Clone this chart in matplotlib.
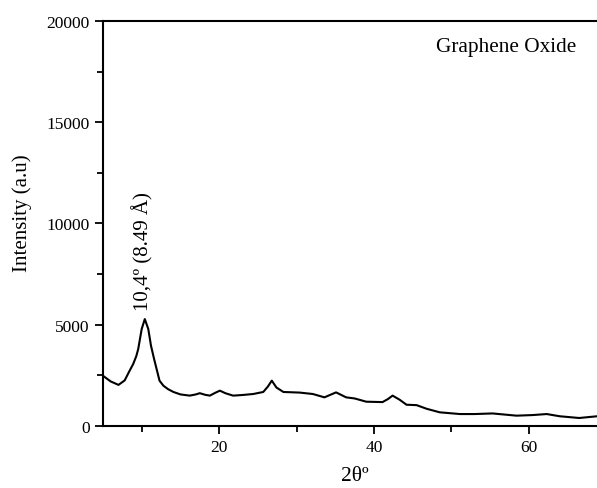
import matplotlib
matplotlib.use("Agg")
import matplotlib.pyplot as plt
from matplotlib.ticker import MultipleLocator

plt.rcParams['font.family'] = ['Liberation Serif', 'DejaVu Serif']

two_theta = [5.0, 6.0, 7.0, 7.8, 8.4, 8.9, 9.3, 9.55, 10.0, 10.4, 10.85, 11.2, 11.6,
             12.0, 12.3, 12.8, 13.4, 14.1, 15.0, 16.2, 17.0, 17.5, 18.2, 18.8, 19.5,
             20.1, 20.8, 21.8, 23.0, 24.4, 25.7, 26.3, 26.8, 27.4, 28.3, 30.4, 32.1,
             33.6, 35.1, 36.4, 37.5, 39.0, 41.1, 41.8, 42.4, 43.3, 44.2, 45.5, 46.8,
             48.5, 51.1, 53.0, 55.3, 57.0, 58.4, 60.5, 62.3, 64.0, 66.5, 68.8]
intensity = [2480, 2200, 2030, 2250, 2700, 3060, 3450, 3800, 4790, 5280, 4790, 3965,
             3310, 2700, 2240, 1990, 1820, 1680, 1560, 1500, 1560, 1620, 1540, 1500,
             1640, 1745, 1620, 1500, 1530, 1580, 1680, 1950, 2240, 1900, 1680, 1650,
             1580, 1415, 1660, 1415, 1360, 1200, 1180, 1330, 1500, 1300, 1050, 1030,
             850, 675, 590, 590, 620, 560, 510, 540, 590, 480, 395, 480]

fig = plt.figure(figsize=(5.97, 4.89), dpi=100)
ax = fig.add_axes([0.1725, 0.1268, 0.8275, 0.8282])
ax.plot(two_theta, intensity, color='black', lw=1.5)
ax.set_xlim(5, 68.8)
ax.set_ylim(0, 20000)
ax.xaxis.set_major_locator(MultipleLocator(20))
ax.xaxis.set_minor_locator(MultipleLocator(10))
ax.yaxis.set_major_locator(MultipleLocator(5000))
ax.yaxis.set_minor_locator(MultipleLocator(2500))
ax.spines['right'].set_visible(False)
for s in ['left', 'bottom', 'top']:
    ax.spines[s].set_linewidth(1.5)
ax.tick_params(which='major', direction='out', length=6, width=1.3, labelsize=12.5,
               top=False, right=False)
ax.tick_params(which='minor', direction='out', length=4, width=1.3, top=False, right=False)
ax.set_ylabel('Intensity (a.u)', fontsize=15)
ax.yaxis.set_label_coords(-0.144, 0.528)
ax.set_xlabel('2θº', fontsize=15.5)
ax.xaxis.set_label_coords(0.51, -0.146)
ax.xaxis.label.set_va('bottom')
ax.text(57.1, 18765, 'Graphene Oxide', fontsize=15.3, ha='center', va='center')
ax.text(10.2, 5750, '10,4º (8.49 Å)', fontsize=15, rotation=90, ha='center', va='bottom')
fig.savefig('out.png', dpi=100)
